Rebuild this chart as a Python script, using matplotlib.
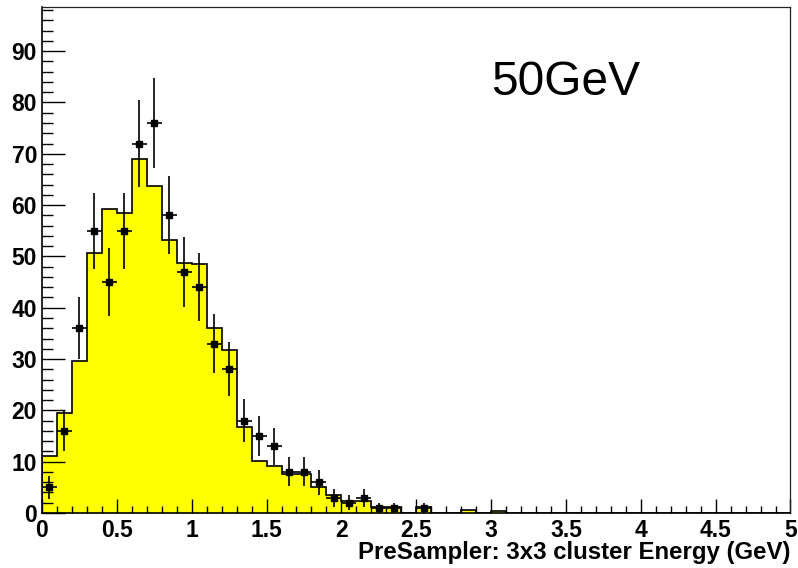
import numpy as np
import matplotlib
matplotlib.use("Agg")
import matplotlib.pyplot as plt
from matplotlib.ticker import MultipleLocator

# ******************************************************************************************************************** #

# bin edges 0 .. 5 GeV, 50 bins of 0.1
bin_edges = np.round(np.arange(0, 5.01, 0.1), 2)

# yellow reference histogram (one value per bin)
hist_values = [11.1, 19.4, 29.6, 50.7, 59.2, 58.4, 69.0, 63.7, 53.2, 48.8,
               48.5, 36.1, 31.8, 16.7, 10.2, 9.2, 7.6, 7.6, 5.1, 3.5,
               2.4, 2.3, 1.1, 1.2, 0.0, 1.2, 0.1, 0.1, 0.5, 0.0,
               0.4, 0.0, 0.0, 0.0, 0.0, 0.0, 0.0, 0.0, 0.0, 0.0,
               0.0, 0.0, 0.0, 0.0, 0.0, 0.0, 0.0, 0.0, 0.0, 0.0]

# data points (bin centres and counts)
data_x = [0.05, 0.15, 0.25, 0.35, 0.45, 0.55, 0.65, 0.75, 0.85, 0.95,
          1.05, 1.15, 1.25, 1.35, 1.45, 1.55, 1.65, 1.75, 1.85, 1.95,
          2.05, 2.15, 2.25, 2.35, 2.55]
data_y = [5, 16, 36, 55, 45, 55, 72, 76, 58, 47,
          44, 33, 28, 18, 15, 13, 8, 8, 6, 3,
          2, 3, 1, 1, 1]

x_title = "PreSampler: 3x3 cluster Energy (GeV)"
energy_label = "50GeV"

# ******************************************************************************************************************** #

plt.rcParams["font.family"] = ["Liberation Sans", "DejaVu Sans"]

fig = plt.figure(figsize=(7.98, 5.68), dpi=100)
ax = fig.add_axes([0.0526, 0.0968, 0.938, 0.8909])

ax.stairs(hist_values, bin_edges, fill=True, color="#ffff00", zorder=1)
ax.stairs(hist_values, bin_edges, color="black", linewidth=1.2, baseline=0, zorder=2)

data_err = np.sqrt(np.array(data_y, dtype=float))
ax.errorbar(data_x, data_y, yerr=data_err, xerr=0.05, fmt="s", color="black",
            markersize=5, elinewidth=1.2, capsize=0, zorder=3)

ax.set_xlim(0, 5)
ax.set_ylim(0, 98.6)

ax.xaxis.set_major_locator(MultipleLocator(0.5))
ax.xaxis.set_minor_locator(MultipleLocator(0.1))
ax.yaxis.set_major_locator(MultipleLocator(10))
ax.yaxis.set_minor_locator(MultipleLocator(2))
ax.xaxis.set_major_formatter(plt.FuncFormatter(lambda v, p: "{:g}".format(v)))
ax.yaxis.set_major_formatter(plt.FuncFormatter(lambda v, p: "{:g}".format(v)))

ax.tick_params(axis="both", which="both", direction="in", top=False, right=False, width=1.0)
ax.tick_params(axis="y", which="major", length=16.5, pad=3.5)
ax.tick_params(axis="y", which="minor", length=8)
ax.tick_params(axis="x", which="major", length=10, pad=4.5)
ax.tick_params(axis="x", which="minor", length=5)

for lbl in ax.get_xticklabels() + ax.get_yticklabels():
    lbl.set_fontsize(16.5)
    lbl.set_fontweight("bold")

for s in ["left", "bottom"]:
    ax.spines[s].set_linewidth(1.2)
for s in ["top", "right"]:
    ax.spines[s].set_linewidth(0.9)
    ax.spines[s].set_color("#222222")

ax.set_xlabel(x_title, fontsize=17.3, fontweight="bold", loc="right")
ax.xaxis.set_label_coords(1.0, -0.056)

fig.text(0.616, 0.8327, energy_label, fontsize=34.5, va="baseline", ha="left")

fig.savefig("out.png", dpi=100)
